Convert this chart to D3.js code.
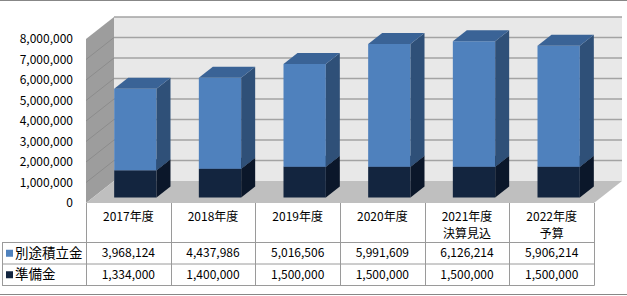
<!DOCTYPE html>
<html>
<head>
<meta charset="utf-8">
<script src="https://cdn.jsdelivr.net/npm/d3@7"></script>
<style>
  body { margin: 0; background: #fff; }
  svg { display: block; }
  text { font-family: "Noto Sans CJK JP", "Noto Sans", sans-serif; fill: #000; }
</style>
</head>
<body>
<div id="chart"></div>
<script>
  const categories = ["2017年度", "2018年度", "2019年度", "2020年度", "2021年度\n決算見込", "2022年度\n予算"];
  const reserve = [3968124, 4437986, 5016506, 5991609, 6126214, 5906214];   // 別途積立金
  const fund = [1334000, 1400000, 1500000, 1500000, 1500000, 1500000];      // 準備金
  const y_ticks = [0, 1000000, 2000000, 3000000, 4000000, 5000000, 6000000, 7000000, 8000000];

  const series = [
    {name: "準備金", values: fund, front: "#13253f", side: "#0b172a", top: "#1b3152"},
    {name: "別途積立金", values: reserve, front: "#4f81bd", side: "#2f5078", top: "#3a6396"}
  ];

  const width = 627, height = 296;
  const DX = 28, DY = -22;          // depth offset of the back wall
  const z0 = 0.25, z1 = 0.75;       // bar depth inside the box

  const svg = d3.select("#chart").append("svg")
    .attr("width", width)
    .attr("height", height);

  const x = d3.scaleBand().domain(categories).range([86, 594]).padding(0);
  const y = d3.scaleLinear().domain([0, 8000000]).range([203, 39]);
  const step = x.step();
  const fmt = d3.format(",");

  const p = (xf, v, z) => [xf + z * DX, y(v) + z * DY];
  const poly = pts => "M" + pts.map(d => d.join(",")).join("L") + "Z";

  // outer border
  svg.append("line").attr("x1", 0).attr("x2", width).attr("y1", 0.5).attr("y2", 0.5).attr("stroke", "#878787");
  svg.append("line").attr("x1", 0).attr("x2", width).attr("y1", 294.5).attr("y2", 294.5).attr("stroke", "#878787");

  const x_left = x.range()[0], x_right = x.range()[1];
  const vmax = y.domain()[1];

  // back wall
  svg.append("path")
    .attr("d", poly([p(x_left, 0, 1), p(x_right, 0, 1), p(x_right, vmax, 1), p(x_left, vmax, 1)]))
    .attr("fill", "#e8e8e8");
  // side wall
  svg.append("path")
    .attr("d", poly([p(x_left, 0, 0), p(x_left, 0, 1), p(x_left, vmax, 1), p(x_left, vmax, 0)]))
    .attr("fill", "#9d9d9d");
  // floor
  svg.append("path")
    .attr("d", poly([p(x_left, 0, 0), p(x_right, 0, 0), p(x_right, 0, 1), p(x_left, 0, 1)]))
    .attr("fill", "#bfbfbf");

  // gridlines
  svg.append("g").selectAll("line").data(y_ticks.slice(1)).join("line")
    .attr("x1", d => p(x_left, d, 1)[0]).attr("y1", d => p(x_left, d, 1)[1])
    .attr("x2", d => p(x_right, d, 1)[0]).attr("y2", d => p(x_right, d, 1)[1])
    .attr("stroke", "#a3a3a3").attr("stroke-width", 1.3);
  svg.append("g").selectAll("line").data(y_ticks.slice(1, -1)).join("line")
    .attr("x1", d => p(x_left, d, 0)[0]).attr("y1", d => p(x_left, d, 0)[1])
    .attr("x2", d => p(x_left, d, 1)[0]).attr("y2", d => p(x_left, d, 1)[1])
    .attr("stroke", "#8c8c8c").attr("stroke-width", 1);

  // y axis labels
  svg.append("g").selectAll("text").data(y_ticks).join("text")
    .attr("x", 73)
    .attr("y", d => y(d))
    .attr("dy", "0.35em")
    .attr("text-anchor", "end")
    .style("font-size", "12px")
    .text(d => fmt(d));

  // bars
  const bars = svg.append("g");
  categories.forEach((c, i) => {
    const bx0 = x(c) + step * 0.25, bx1 = x(c) + step * 0.75;
    let base = 0;
    series.forEach(s => {
      const v0 = base, v1 = base + s.values[i];
      bars.append("path").attr("d", poly([p(bx0, v0, z0), p(bx1, v0, z0), p(bx1, v1, z0), p(bx0, v1, z0)])).attr("fill", s.front);
      bars.append("path").attr("d", poly([p(bx1, v0, z0), p(bx1, v0, z1), p(bx1, v1, z1), p(bx1, v1, z0)])).attr("fill", s.side);
      bars.append("path").attr("d", poly([p(bx0, v1, z0), p(bx1, v1, z0), p(bx1, v1, z1), p(bx0, v1, z1)])).attr("fill", s.top);
      base = v1;
    });
  });

  // data table
  const table = svg.append("g").attr("stroke", "#9a9a9a").attr("stroke-width", 1);
  const row_y = [242.5, 264, 285.5];
  d3.range(categories.length + 1).forEach(i => {
    const xx = Math.round(x_left + i * step) + 0.5;
    table.append("line").attr("x1", xx).attr("x2", xx).attr("y1", 203).attr("y2", row_y[2]);
  });
  row_y.forEach(yy => {
    table.append("line").attr("x1", 2).attr("x2", x_right + 0.5).attr("y1", yy).attr("y2", yy);
  });
  table.append("line").attr("x1", 2.5).attr("x2", 2.5).attr("y1", row_y[0]).attr("y2", row_y[2]);

  // category labels (two-line ones as separate texts)
  const cat_lines = [];
  categories.forEach(c => c.split("\n").forEach((t, j) => cat_lines.push({c: c, t: t, j: j})));
  svg.append("g").selectAll("text").data(cat_lines).join("text")
    .attr("x", d => x(d.c) + step / 2)
    .attr("y", d => 216.5 + d.j * 17.5)
    .attr("dy", "0.35em")
    .attr("text-anchor", "middle")
    .style("font-size", "12px")
    .text(d => d.t);

  // data rows: 別途積立金 first, then 準備金
  const rows = [series[1], series[0]];
  rows.forEach((s, r) => {
    const cy = (row_y[r] + row_y[r + 1]) / 2;
    svg.append("rect").attr("x", 6).attr("y", cy - 3.5).attr("width", 7).attr("height", 7).attr("fill", s.front);
    svg.append("text").attr("x", 15).attr("y", cy).attr("dy", "0.35em")
      .style("font-size", "13.5px").text(s.name);
    svg.append("g").selectAll("text").data(s.values).join("text")
      .attr("x", (d, i) => x(categories[i]) + step / 2)
      .attr("y", cy)
      .attr("dy", "0.35em")
      .attr("text-anchor", "middle")
      .style("font-size", "12px")
      .text(d => fmt(d));
  });
</script>
</body>
</html>
